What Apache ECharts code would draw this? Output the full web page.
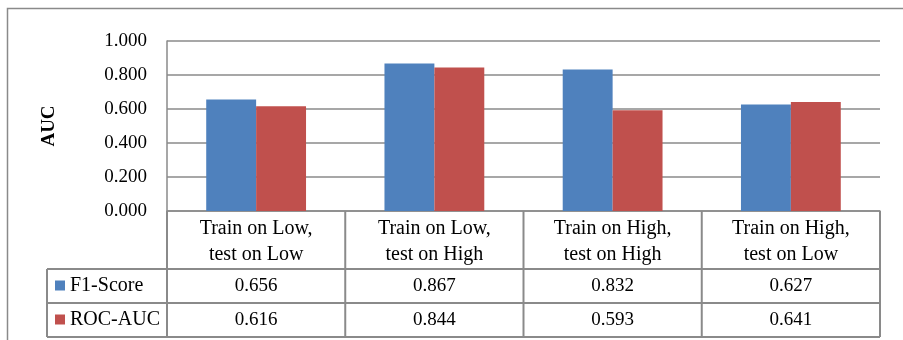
<!DOCTYPE html>
<html>
<head>
<meta charset="utf-8">
<script src="https://cdn.jsdelivr.net/npm/echarts@6/dist/echarts.min.js"></script>
<style>
  html, body { margin: 0; padding: 0; background: #fff; }
  #chart { width: 903px; height: 340px; }
</style>
</head>
<body>
<div id="chart"></div>
<script>
// Categories (two-line labels) and metric values per scenario
const categories = [
  'Train on Low,\ntest on Low',
  'Train on Low,\ntest on High',
  'Train on High,\ntest on High',
  'Train on High,\ntest on Low'
];
const seriesNames = ['F1-Score', 'ROC-AUC'];
const f1Score = [0.656, 0.867, 0.832, 0.627];
const rocAuc = [0.616, 0.844, 0.593, 0.641];
const yTicks = [0, 0.2, 0.4, 0.6, 0.8, 1.0];

const colors = ['#4F81BD', '#C0504D'];
const lineColor = '#8a8a8a';
const font = '"Liberation Serif", "Times New Roman", serif';
const fontSize = 20;

const chart = echarts.init(document.getElementById('chart'), null, { renderer: 'canvas' });

const gridLeft = 167, gridRight = 23, gridTop = 41, gridBottom = 129;

chart.setOption({
  animation: false,
  backgroundColor: '#fff',
  textStyle: { fontFamily: font },
  grid: { left: gridLeft, right: gridRight, top: gridTop, bottom: gridBottom, containLabel: false },
  xAxis: {
    type: 'category',
    data: categories,
    axisLine: { show: true, lineStyle: { color: lineColor, width: 1.5 } },
    axisTick: { show: false },
    axisLabel: {
      interval: 0,
      margin: 5,
      color: '#000',
      fontFamily: font,
      fontSize: fontSize,
      lineHeight: 26,
      align: 'center'
    }
  },
  yAxis: {
    type: 'value',
    min: yTicks[0],
    max: yTicks[yTicks.length - 1],
    interval: 0.2,
    name: 'AUC',
    nameLocation: 'middle',
    nameRotate: 90,
    nameGap: 108,
    nameTextStyle: { color: '#000', fontFamily: font, fontSize: 19, fontWeight: 'bold' },
    axisLine: { show: true, lineStyle: { color: lineColor, width: 1.5 } },
    axisTick: { show: false },
    splitLine: { show: true, lineStyle: { color: lineColor, width: 1.5 } },
    axisLabel: {
      margin: 20,
      color: '#000',
      fontFamily: font,
      fontSize: 19,
      formatter: v => v.toFixed(3)
    }
  },
  series: [
    { name: seriesNames[0], type: 'bar', data: f1Score, barGap: '0%', barCategoryGap: '44%', itemStyle: { color: colors[0] } },
    { name: seriesNames[1], type: 'bar', data: rocAuc, barGap: '0%', barCategoryGap: '44%', itemStyle: { color: colors[1] } }
  ]
});

// Data table underneath the plot, aligned to the category bands
function drawTable() {
  const c0 = chart.convertToPixel({ xAxisIndex: 0 }, 0);
  const c1 = chart.convertToPixel({ xAxisIndex: 0 }, 1);
  const band = c1 - c0;
  const colEdges = [];
  for (let i = 0; i <= categories.length; i++) colEdges.push(c0 - band / 2 + i * band);
  const yZero = chart.convertToPixel({ yAxisIndex: 0 }, 0);
  const headerBottom = yZero + 58;
  const rowH = 34;
  const rows = [f1Score, rocAuc];
  const legendLeft = 47;
  const tableBottom = headerBottom + rowH * rows.length;
  const line = (x1, y1, x2, y2) => ({
    type: 'line', silent: true,
    shape: { x1, y1, x2, y2 },
    style: { stroke: lineColor, lineWidth: 2 }
  });
  const els = [];
  // outer frame of the chart area
  els.push({ type: 'rect', silent: true, shape: { x: 7.5, y: 8.5, width: 920, height: 360 },
    style: { fill: null, stroke: lineColor, lineWidth: 1.5 } });
  // vertical lines of the table
  colEdges.forEach(x => els.push(line(x, yZero, x, tableBottom)));
  els.push(line(legendLeft, headerBottom, legendLeft, tableBottom));
  // horizontal lines
  for (let r = 0; r <= rows.length; r++) {
    const y = headerBottom + r * rowH;
    els.push(line(legendLeft, y, colEdges[colEdges.length - 1], y));
  }
  rows.forEach((vals, r) => {
    const yc = headerBottom + r * rowH + rowH / 2;
    els.push({ type: 'rect', silent: true, shape: { x: 55, y: yc - 5.5, width: 10, height: 10 },
      style: { fill: colors[r] } });
    els.push({ type: 'text', silent: true, x: 70, y: yc,
      style: { text: seriesNames[r], font: fontSize + 'px ' + font, fill: '#000', verticalAlign: 'middle', align: 'left' } });
    vals.forEach((v, i) => {
      els.push({ type: 'text', silent: true, x: (colEdges[i] + colEdges[i + 1]) / 2, y: yc,
        style: { text: v.toFixed(3), font: '19px ' + font, fill: '#000', verticalAlign: 'middle', align: 'center' } });
    });
  });
  chart.setOption({ graphic: { elements: els } });
}
drawTable();
</script>
</body>
</html>
